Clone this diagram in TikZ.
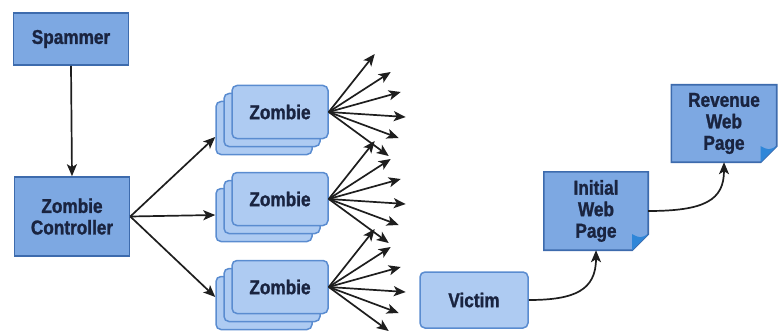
\documentclass[tikz,border=0pt]{standalone}
\usepackage{fontspec}
\setmainfont{Liberation Sans}[FakeStretch=0.86, BoldFeatures={FakeBold=1.3}]
\usetikzlibrary{arrows.meta,backgrounds}
\definecolor{boxfill}{HTML}{7DA8E2}
\definecolor{boxline}{HTML}{3D6BAD}
\definecolor{zfill}{HTML}{AECBF2}
\definecolor{zline}{HTML}{5A8CD0}
\definecolor{txt}{HTML}{1A2440}
\definecolor{foldc}{HTML}{2F86D8}
\definecolor{arr}{HTML}{1E1E1E}
\tikzset{
  lbl/.style={font=\bfseries\fontsize{20}{21.5}\selectfont, text=txt, align=center, inner sep=0pt},
  darkbox/.style={lbl, draw=boxline, fill=boxfill, line width=1.6pt},
  card/.style={lbl, draw=zline, fill=zfill, line width=1.5pt, rounded corners=5pt, minimum width=96pt, minimum height=53pt},
  conn/.style={draw=arr, line width=1.7pt, -{Stealth[length=12pt,width=10pt,inset=3pt]}},
  pageshape/.style={draw=boxline, fill=boxfill, line width=1.6pt},
}
\begin{document}
\begin{tikzpicture}[x=1pt,y=-1pt]
\useasboundingbox (0,0) rectangle (778,334);
\node[darkbox, minimum width=115pt, minimum height=52pt] (spam) at (71,39) {Spammer};
\node[darkbox, minimum width=115pt, minimum height=79pt] (ctrl) at (72,216.5) {Zombie\\Controller};
\draw[conn] (spam.south) -- (ctrl.north);
\foreach \n/\y in {a/112, b/199, c/287} {
  \node[card] (\n3) at (264,\y+16) {};
  \node[card] (\n2) at (272,\y+8) {};
  \node[card] (\n1) at (280,\y) {Zombie};
}
\draw[conn] (ctrl.east) -- ([yshift=-9pt]a3.west);
\draw[conn] (ctrl.east) -- (b3.west);
\draw[conn] (ctrl.east) -- ([yshift=6pt]c3.west);
\foreach \n in {a,b,c} {
  \foreach \k/\dx/\dy in {1/46/-58, 2/62/-40, 3/72/-20, 4/77/5, 5/70/26, 6/60/44} {
    \path (\n1.east) ++(\dx,\dy) coordinate (\n tip\k);
    \draw[conn] (\n1.east) -- (\n tip\k);
  }
}
\node[card, minimum width=108pt, minimum height=56pt] (vic) at (474,300) {Victim};
\node[lbl, minimum width=104pt, minimum height=78pt] (init) at (596,211) {Initial\\Web\\Page};
\node[lbl, minimum width=105pt, minimum height=77pt] (rev) at (724,123.5) {Revenue\\Web\\Page};
\begin{scope}[on background layer]
  \foreach \p in {init, rev} {
    \draw[pageshape] (\p.north west) -- (\p.north east) -- ([yshift=16pt]\p.south east)
      -- ([xshift=-16pt]\p.south east) -- (\p.south west) -- cycle;
    \fill[foldc] ([xshift=-16pt]\p.south east) -- ([yshift=16pt]\p.south east)
      .. controls ([xshift=-8pt,yshift=12pt]\p.south east) .. ([xshift=-16pt,yshift=16pt]\p.south east) -- cycle;
  }
\end{scope}
\draw[conn] (vic.east) .. controls (575,300) and (596,290) .. (init.south);
\draw[conn] (init.east) .. controls (705,211) and (724,200) .. (rev.south);
\end{tikzpicture}
\end{document}
